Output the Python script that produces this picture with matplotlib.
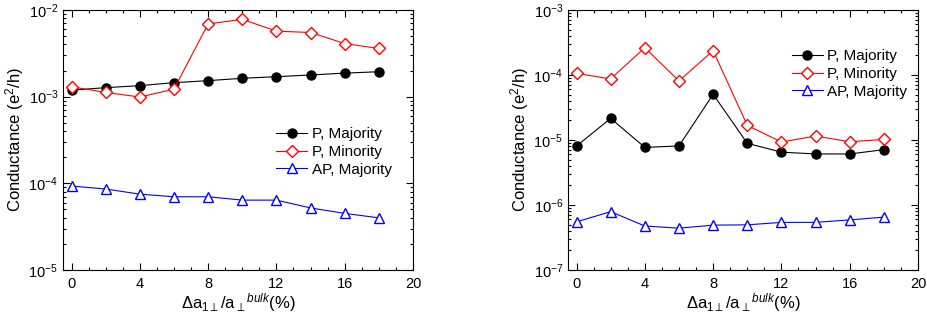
import matplotlib
matplotlib.use("Agg")
import matplotlib.pyplot as plt
from matplotlib.ticker import MultipleLocator, LogLocator, NullFormatter

plt.rcParams['font.family'] = ['Liberation Sans', 'DejaVu Sans']
plt.rcParams['mathtext.fontset'] = 'custom'
plt.rcParams['mathtext.rm'] = 'Liberation Sans'
plt.rcParams['mathtext.it'] = 'Liberation Sans:italic'

strain = [0, 2, 4, 6, 8, 10, 12, 14, 16, 18]

# Panel (a)
a_p_major = [1.19e-3, 1.27e-3, 1.34e-3, 1.45e-3, 1.53e-3, 1.63e-3, 1.70e-3, 1.78e-3, 1.87e-3, 1.94e-3]
a_p_minor = [1.30e-3, 1.12e-3, 0.99e-3, 1.22e-3, 6.9e-3, 7.8e-3, 5.7e-3, 5.5e-3, 4.1e-3, 3.6e-3]
a_ap_major = [9.3e-5, 8.6e-5, 7.5e-5, 7.0e-5, 7.0e-5, 6.4e-5, 6.4e-5, 5.2e-5, 4.5e-5, 4.0e-5]

# Panel (b)
b_p_major = [8.1e-6, 2.15e-5, 7.7e-6, 8.1e-6, 5.05e-5, 8.9e-6, 6.5e-6, 6.1e-6, 6.1e-6, 7.1e-6]
b_p_minor = [1.06e-4, 8.7e-5, 2.63e-4, 8.1e-5, 2.37e-4, 1.68e-5, 9.3e-6, 1.15e-5, 9.4e-6, 1.02e-5]
b_ap_major = [5.5e-7, 7.9e-7, 4.75e-7, 4.4e-7, 4.9e-7, 4.95e-7, 5.4e-7, 5.4e-7, 5.9e-7, 6.5e-7]

labels = ["P, Majority", "P, Minority", "AP, Majority"]
xlabel = r"$\Delta$a$_{1\perp}$/a$_{\perp}$$^{\mathit{bulk}}$(%)"
ylabel = r"Conductance (e$^2$/h)"

fig = plt.figure(figsize=(9.28, 3.25), dpi=100)
ax1 = fig.add_axes([63/928, 55/325, 350/928, 260/325])
ax2 = fig.add_axes([568/928, 55/325, 350/928, 260/325])


def draw(ax, pmaj, pmin, apmaj, ylim, leg_anchor):
    ax.plot(strain, pmaj, color='black', lw=0.8, marker='o', ms=6.5,
            mfc='black', mec='black', label=labels[0])
    ax.plot(strain, pmin, color='red', lw=0.8, marker='D', ms=6,
            mfc='white', mec='red', mew=1.0, label=labels[1])
    ax.plot(strain, apmaj, color='blue', lw=0.8, marker='^', ms=7.5,
            mfc='white', mec='blue', mew=1.0, label=labels[2])
    ax.set_yscale('log')
    ax.set_ylim(*ylim)
    ax.set_xlim(-0.5, 20)
    ax.xaxis.set_major_locator(MultipleLocator(4))
    ax.xaxis.set_minor_locator(MultipleLocator(1))
    ax.yaxis.set_major_locator(LogLocator(base=10, numticks=10))
    ax.yaxis.set_minor_locator(LogLocator(base=10, subs=range(2, 10), numticks=20))
    ax.yaxis.set_minor_formatter(NullFormatter())
    ax.tick_params(which='both', direction='in', top=True, right=True, labelsize=10.5, width=0.8)
    ax.tick_params(which='major', length=5)
    ax.tick_params(which='minor', length=2.5)
    ax.tick_params(axis='x', pad=5)
    for s in ax.spines.values():
        s.set_linewidth(0.8)
    ax.set_xlabel(xlabel, fontsize=12, labelpad=0)
    ax.set_ylabel(ylabel, fontsize=12, labelpad=2)
    ax.legend(loc='center left', bbox_to_anchor=leg_anchor, frameon=False,
              fontsize=11, handlelength=2.0, handletextpad=0.3,
              borderaxespad=0, borderpad=0, labelspacing=0.25)


draw(ax1, a_p_major, a_p_minor, a_ap_major, (1e-5, 1e-2), (0.61, 0.454))
draw(ax2, b_p_major, b_p_minor, b_ap_major, (1e-7, 1e-3), (0.64, 0.754))

fig.savefig("out.png", dpi=100)
